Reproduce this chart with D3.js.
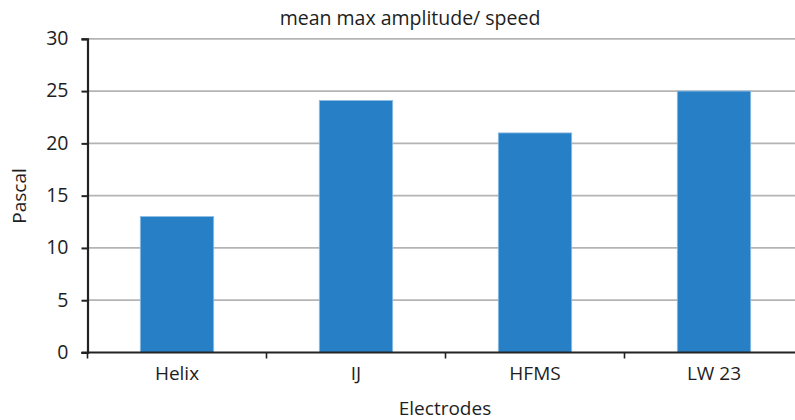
<!DOCTYPE html>
<html>
<head>
<meta charset="utf-8">
<script src="https://cdn.jsdelivr.net/npm/d3@7"></script>
<style>
  html, body { margin: 0; padding: 0; background: #fff; }
  svg { display: block; }
  text { font-family: "Open Sans", "Noto Sans", sans-serif; fill: #1e1e1e; }
</style>
</head>
<body>
<svg id="chart" width="795" height="420"></svg>
<script>
// Electrode types and their mean maximum amplitude
const categories = ["Helix", "IJ", "HFMS", "LW 23"];
const values = [13, 24.1, 21, 25];
const yTicks = [0, 5, 10, 15, 20, 25, 30];

const title = "mean max amplitude/ speed";
const xTitle = "Electrodes";
const yTitle = "Pascal";

const svg = d3.select("#chart");
const margin = { left: 87.5, top: 38.8, bottom: 420 - 352.5 };
const bandWidth = 179;
const plotH = 420 - margin.top - margin.bottom;

const x = d3.scaleBand()
  .domain(categories)
  .range([margin.left, margin.left + bandWidth * categories.length])
  .paddingInner(0.59)
  .paddingOuter(0.295);

const y = d3.scaleLinear()
  .domain([0, 30])
  .range([margin.top + plotH, margin.top]);

// horizontal gridlines
svg.append("g")
  .selectAll("line")
  .data(yTicks.filter(d => d > 0))
  .join("line")
  .attr("x1", margin.left)
  .attr("x2", 795)
  .attr("y1", d => y(d))
  .attr("y2", d => y(d))
  .attr("stroke", "#b4b4b4")
  .attr("stroke-width", 1.8);

// bars
svg.append("g")
  .selectAll("rect")
  .data(categories)
  .join("rect")
  .attr("x", d => x(d))
  .attr("width", x.bandwidth())
  .attr("y", (d, i) => y(values[i]))
  .attr("height", (d, i) => y(0) - y(values[i]))
  .attr("fill", "#2780c6")
  .attr("stroke", "#8dbde6")
  .attr("stroke-width", 0.8);

// y axis
const yAxis = d3.axisLeft(y)
  .tickValues(yTicks)
  .tickSize(6)
  .tickPadding(13);
const gy = svg.append("g")
  .attr("transform", `translate(${margin.left},0)`)
  .call(yAxis);
gy.select(".domain").attr("stroke", "#222").attr("stroke-width", 2.2);
gy.selectAll(".tick line").attr("stroke", "#222").attr("stroke-width", 2);
gy.selectAll(".tick text")
  .attr("dy", "0.3em")
  .style("font-size", "19.5px")
  .style("font-family", "'Open Sans', sans-serif")
  .style("fill", "#1e1e1e");

// x axis with boundary ticks between categories
const xAxisY = y(0);
svg.append("line")
  .attr("x1", margin.left - 6)
  .attr("x2", 795)
  .attr("y1", xAxisY)
  .attr("y2", xAxisY)
  .attr("stroke", "#222")
  .attr("stroke-width", 2.2);

svg.append("g")
  .selectAll("line")
  .data(d3.range(categories.length + 1))
  .join("line")
  .attr("x1", i => margin.left + i * bandWidth)
  .attr("x2", i => margin.left + i * bandWidth)
  .attr("y1", xAxisY)
  .attr("y2", xAxisY + 6)
  .attr("stroke", "#222")
  .attr("stroke-width", 1.6);

svg.append("g")
  .selectAll("text")
  .data(categories)
  .join("text")
  .attr("x", d => x(d) + x.bandwidth() / 2)
  .attr("y", 380)
  .attr("text-anchor", "middle")
  .style("font-size", "19px")
  .text(d => d);

// titles
svg.append("text")
  .attr("x", 410)
  .attr("y", 25)
  .attr("text-anchor", "middle")
  .style("font-size", "19.5px")
  .text(title);

svg.append("text")
  .attr("x", 445)
  .attr("y", 415)
  .attr("text-anchor", "middle")
  .style("font-size", "19px")
  .text(xTitle);

svg.append("text")
  .attr("transform", "translate(26,196) rotate(-90)")
  .attr("text-anchor", "middle")
  .style("font-size", "19px")
  .text(yTitle);
</script>
</body>
</html>
